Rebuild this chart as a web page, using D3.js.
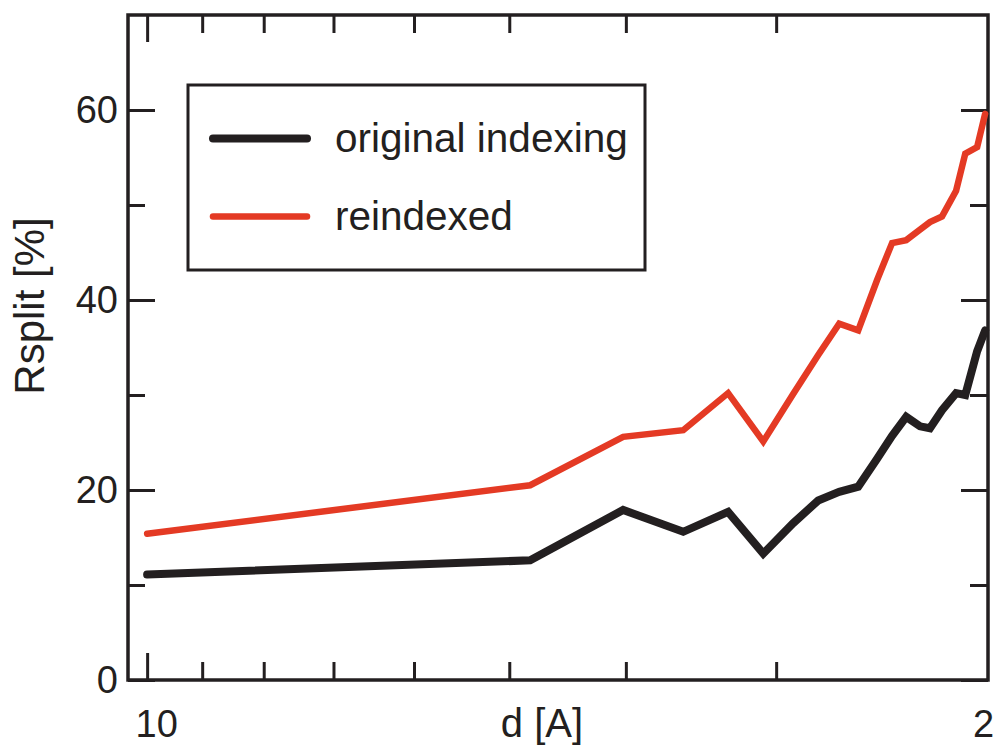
<!DOCTYPE html>
<html>
<head>
<meta charset="utf-8">
<script src="https://cdn.jsdelivr.net/npm/d3@7"></script>
<style>
  html, body { margin: 0; padding: 0; background: #fff; }
  svg { display: block; }
  text { font-family: "Liberation Sans", Arial, Helvetica, sans-serif; fill: #231f20; }
</style>
</head>
<body>
<svg id="chart" width="998" height="747"></svg>
<script>
// ---- data ----
const resolution = [10.0, 4.804, 4.021, 3.584, 3.289, 3.075, 2.904, 2.768, 2.659, 2.564,
                    2.473, 2.403, 2.339, 2.278, 2.235, 2.184, 2.126, 2.089, 2.042, 2.011];
const originalIndexing = [11.1, 12.6, 17.9, 15.6, 17.7, 13.3, 16.5, 18.9, 19.8, 20.35,
                          23.3, 25.7, 27.7, 26.7, 26.5, 28.4, 30.2, 30.0, 34.6, 36.8];
const reindexed = [15.4, 20.5, 25.6, 26.3, 30.2, 25.1, 30.1, 34.2, 37.5, 36.8,
                   42.1, 46.0, 46.3, 47.4, 48.2, 48.8, 51.5, 55.4, 56.1, 59.6];
const seriesNames = ["original indexing", "reindexed"];
const xMajorTicks = [10];
const xMinorTicks = [9, 8, 7, 6, 5, 4, 3];
const xTickLabels = [10, 2];
const yMajorTicks = [0, 20, 40, 60];
const yMinorTicks = [10, 30, 50];
const xTitle = "d [A]";
const yTitle = "Rsplit [%]";

// ---- layout ----
const L = 128, R = 988, T = 15, B = 680;
const COLORS = ["#231f20", "#e43a24"];
const WIDTHS = [8, 6.5];

const svg = d3.select("#chart");
const x = d3.scaleLog().domain([10.373, 2]).range([L, R]);
const y = d3.scaleLinear().domain([0, 70]).range([B, T]);

function styleAxis(g) {
  g.select(".domain").remove();
  g.selectAll(".tick line").attr("stroke", "#231f20").attr("stroke-width", 3);
  g.selectAll(".tick text").remove();
}

// ticks (inward)
svg.append("g").attr("transform", `translate(0,${B})`)
  .call(d3.axisBottom(x).tickValues(xMajorTicks).tickSize(-27)).call(styleAxis);
svg.append("g").attr("transform", `translate(0,${B})`)
  .call(d3.axisBottom(x).tickValues(xMinorTicks).tickSize(-18)).call(styleAxis);
svg.append("g").attr("transform", `translate(0,${T})`)
  .call(d3.axisTop(x).tickValues(xMajorTicks).tickSize(-27)).call(styleAxis);
svg.append("g").attr("transform", `translate(0,${T})`)
  .call(d3.axisTop(x).tickValues(xMinorTicks).tickSize(-18)).call(styleAxis);
svg.append("g").attr("transform", `translate(${L},0)`)
  .call(d3.axisLeft(y).tickValues(yMajorTicks).tickSize(-27)).call(styleAxis);
svg.append("g").attr("transform", `translate(${L},0)`)
  .call(d3.axisLeft(y).tickValues(yMinorTicks).tickSize(-17)).call(styleAxis);
svg.append("g").attr("transform", `translate(${R},0)`)
  .call(d3.axisRight(y).tickValues(yMajorTicks).tickSize(-27)).call(styleAxis);
svg.append("g").attr("transform", `translate(${R},0)`)
  .call(d3.axisRight(y).tickValues(yMinorTicks).tickSize(-18)).call(styleAxis);

// frame
svg.append("rect").attr("x", L).attr("y", T).attr("width", R - L).attr("height", B - T)
  .attr("fill", "none").attr("stroke", "#231f20").attr("stroke-width", 3.5);

// y tick labels
const yl = svg.append("g").attr("transform", `translate(${L},0)`)
  .call(d3.axisLeft(y).tickValues(yMajorTicks).tickSize(0).tickPadding(10).tickFormat(d3.format("d")));
yl.select(".domain").remove();
yl.selectAll("text").attr("font-size", 38).attr("fill", "#231f20")
  .style("font-family", "'Liberation Sans', Arial, sans-serif");

// x tick labels
const xl = svg.append("g").attr("transform", `translate(0,${B})`)
  .call(d3.axisBottom(x).tickValues(xTickLabels).tickSize(0).tickPadding(0).tickFormat(d3.format("d")));
xl.select(".domain").remove();
xl.selectAll("text").attr("font-size", 38).attr("fill", "#231f20")
  .style("font-family", "'Liberation Sans', Arial, sans-serif")
  .attr("y", 57).attr("dy", 0)
  .attr("dx", d => d === 10 ? 9 : -5);

// axis titles
svg.append("text").attr("x", 542).attr("y", 737).attr("text-anchor", "middle")
  .attr("font-size", 40).text(xTitle);
svg.append("text").attr("transform", "translate(44,306) rotate(-90)")
  .attr("text-anchor", "middle").attr("font-size", 42).text(yTitle);

// lines
const line = d3.line().x(d => x(d[0])).y(d => y(d[1]));
[originalIndexing, reindexed].forEach((vals, i) => {
  svg.append("path")
    .datum(resolution.map((r, k) => [r, vals[k]]))
    .attr("d", line)
    .attr("fill", "none")
    .attr("stroke", COLORS[i])
    .attr("stroke-width", WIDTHS[i])
    .attr("stroke-linejoin", "miter")
    .attr("stroke-linecap", "round");
});

// legend
const lg = svg.append("g");
lg.append("rect").attr("x", 188).attr("y", 85).attr("width", 457).attr("height", 185)
  .attr("fill", "#fff").attr("stroke", "#231f20").attr("stroke-width", 3);
seriesNames.forEach((name, i) => {
  const yy = 138.5 + i * 78;
  lg.append("line").attr("x1", 213).attr("x2", 307).attr("y1", yy).attr("y2", yy)
    .attr("stroke", COLORS[i]).attr("stroke-width", WIDTHS[i]).attr("stroke-linecap", "round");
  lg.append("text").attr("x", 335).attr("y", yy + 13.5).attr("font-size", 40.5).text(name);
});
</script>
</body>
</html>
